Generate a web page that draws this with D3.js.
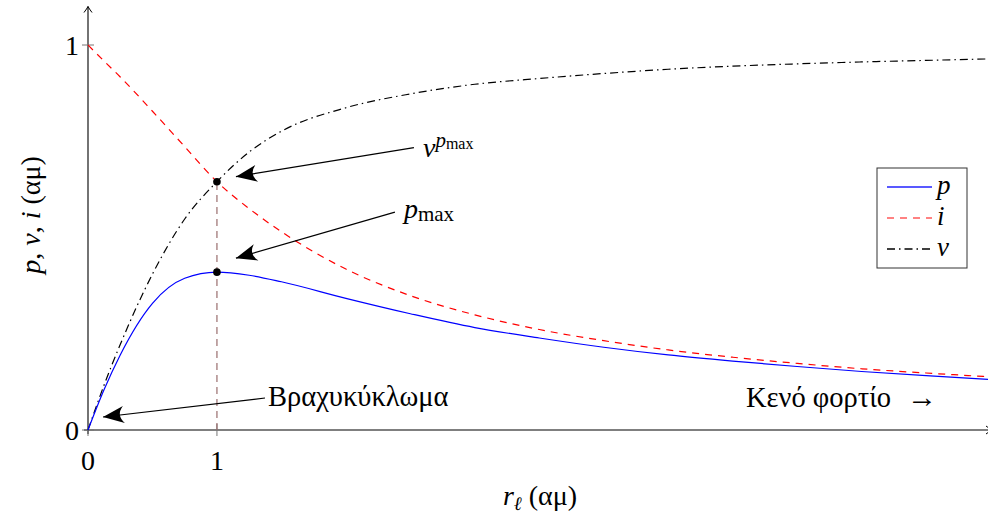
<!DOCTYPE html>
<html><head><meta charset="UTF-8">
<script src="https://cdn.jsdelivr.net/npm/d3@7/dist/d3.min.js"></script>
<style>
  body { margin: 0; background: #fff; }
  svg { display: block; font-family: "Liberation Serif", "DejaVu Serif", serif; }
</style>
</head>
<body>
<svg width="988" height="519"></svg>
<script>

// load resistance (αμ) and curves
const rl   = [0, 0.125, 0.25, 0.5, 0.75, 1, 1.25, 1.5, 2, 2.5, 3, 3.5, 4, 4.5, 5, 5.5, 6, 6.5, 7];
const pVal = [0, 0.105, 0.195, 0.329, 0.394, 0.41, 0.402, 0.385, 0.342, 0.302, 0.266, 0.239, 0.215, 0.195, 0.179, 0.165, 0.152, 0.141, 0.131];
const iVal = [1, 0.958, 0.917, 0.828, 0.736, 0.645, 0.575, 0.515, 0.418, 0.349, 0.299, 0.261, 0.232, 0.208, 0.189, 0.173, 0.159, 0.148, 0.138];
const vVal = [0, 0.117, 0.222, 0.405, 0.548, 0.645, 0.722, 0.776, 0.837, 0.873, 0.898, 0.913, 0.926, 0.937, 0.945, 0.951, 0.956, 0.960, 0.964];

const xTicks = [0, 1];
const yTicks = [0, 1];
const rOpt = 1; // point of max power

const legendItems = ["p", "i", "v"];

const width = 988, height = 519;
const svg = d3.select("svg");

let x = d3.scaleLinear().domain([0, 6.98]).range([88, 988]);
let y = d3.scaleLinear().domain([0, 1]).range([430, 45]);

const styles = {
  p: { stroke: "blue", dash: null },
  i: { stroke: "red", dash: "7,6" },
  v: { stroke: "black", dash: "8,4,1.5,4" }
};

let defs = svg.append("defs");
// stealth-like arrow for annotations
defs.append("marker")
  .attr("id", "stealth")
  .attr("viewBox", "-22 -10 24 20")
  .attr("markerWidth", 24).attr("markerHeight", 20)
  .attr("refX", 0).attr("refY", 0)
  .attr("markerUnits", "userSpaceOnUse")
  .attr("orient", "auto")
  .append("path")
  .attr("d", "M0,0 L-21,-8.5 Q-13,0 -21,8.5 Z")
  .attr("fill", "black");
// small latex "->" for axes
defs.append("marker")
  .attr("id", "axarrow")
  .attr("viewBox", "-8 -5 9 10")
  .attr("markerWidth", 9).attr("markerHeight", 10)
  .attr("refX", 0).attr("refY", 0)
  .attr("markerUnits", "userSpaceOnUse")
  .attr("orient", "auto")
  .append("path")
  .attr("d", "M-6,-4 Q-2,-1 0,0 Q-2,1 -6,4")
  .attr("fill", "none").attr("stroke", "black").attr("stroke-width", 1);

// axes
svg.append("line")
  .attr("x1", x(0) - 4).attr("y1", y(0))
  .attr("x2", x(6.98) + 4).attr("y2", y(0))
  .attr("stroke", "black").attr("stroke-width", 1.1)
  .attr("marker-end", "url(#axarrow)");
svg.append("line")
  .attr("x1", x(0)).attr("y1", y(0) + 4)
  .attr("x2", x(0)).attr("y2", y(1.1))
  .attr("stroke", "black").attr("stroke-width", 1.1)
  .attr("marker-end", "url(#axarrow)");

// ticks
svg.selectAll(".xtick").data(xTicks).enter().append("line")
  .attr("x1", d => x(d)).attr("x2", d => x(d))
  .attr("y1", y(0) - 6).attr("y2", y(0) + 6)
  .attr("stroke", "#777").attr("stroke-width", 1);
svg.selectAll(".ytick").data(yTicks).enter().append("line")
  .attr("x1", x(0) - 6).attr("x2", x(0) + 6)
  .attr("y1", d => y(d)).attr("y2", d => y(d))
  .attr("stroke", "#777").attr("stroke-width", 1);

svg.selectAll(".xlab").data(xTicks).enter().append("text")
  .attr("x", d => x(d)).attr("y", y(0) + 40)
  .attr("text-anchor", "middle")
  .style("font-size", "28px")
  .text(d => d);
svg.selectAll(".ylab").data(yTicks).enter().append("text")
  .attr("x", x(0) - 9).attr("y", d => y(d) + 10)
  .attr("text-anchor", "end")
  .style("font-size", "28px")
  .text(d => d);

// dashed marker line at r = 1
svg.append("line")
  .attr("x1", x(rOpt)).attr("x2", x(rOpt))
  .attr("y1", y(0)).attr("y2", y(iVal[rl.indexOf(rOpt)]))
  .attr("stroke", "#9a6e6e").attr("stroke-width", 1.2)
  .attr("stroke-dasharray", "7,5");

// curves
const series = { p: pVal, i: iVal, v: vVal };
let line = d3.line()
  .x(d => x(d[0]))
  .y(d => y(d[1]))
  .curve(d3.curveMonotoneX);

["v", "i", "p"].forEach(k => {
  svg.append("path")
    .datum(rl.map((r, j) => [r, series[k][j]]))
    .attr("d", line)
    .attr("fill", "none")
    .attr("stroke", styles[k].stroke)
    .attr("stroke-width", 1.2)
    .attr("stroke-dasharray", styles[k].dash);
});

// dots at r = 1
const jOpt = rl.indexOf(rOpt);
svg.selectAll(".dot").data([iVal[jOpt], pVal[jOpt]]).enter().append("circle")
  .attr("cx", x(rOpt)).attr("cy", d => y(d))
  .attr("r", 3.8).attr("fill", "black");

// annotations
function annot(x1, y1, x2, y2) {
  svg.append("line")
    .attr("x1", x1).attr("y1", y1).attr("x2", x2).attr("y2", y2)
    .attr("stroke", "black").attr("stroke-width", 1.2)
    .attr("marker-end", "url(#stealth)");
}

// v^{pmax}
annot(x(rOpt) + 197, y(vVal[jOpt]) - 34, x(rOpt) + 19, y(vVal[jOpt]) - 5);
let t1 = svg.append("text").attr("x", x(rOpt) + 206).attr("y", y(vVal[jOpt]) - 25)
  .style("font-size", "28px");
t1.append("tspan").style("font-style", "italic").text("v");
t1.append("tspan").attr("dy", -10).style("font-style", "italic").style("font-size", "21px").text("p");
t1.append("tspan").attr("dy", 2).style("font-size", "16px").text("max");

// p_max
annot(x(rOpt) + 178, y(pVal[jOpt]) - 60, x(rOpt) + 19, y(pVal[jOpt]) - 14);
let t2 = svg.append("text").attr("x", x(rOpt) + 187).attr("y", y(pVal[jOpt]) - 54)
  .style("font-size", "28px");
t2.append("tspan").style("font-style", "italic").text("p");
t2.append("tspan").attr("dy", 3).style("font-size", "21px").text("max");

// short circuit
annot(x(0) + 177, y(0) - 32, x(0) + 15, y(0) - 13);
svg.append("text").attr("x", x(0) + 180).attr("y", y(0) - 24)
  .style("font-size", "28.5px")
  .text("Βραχυκύκλωμα");

// open circuit
svg.append("text").attr("x", 746).attr("y", y(0) - 23)
  .style("font-size", "28.5px")
  .text("Κενό φορτίο");
svg.append("text").attr("x", 907).attr("y", y(0) - 23)
  .style("font-size", "30px")
  .text("→");

// axis labels
let yl = svg.append("text")
  .attr("transform", "translate(40,215) rotate(-90)")
  .attr("text-anchor", "middle")
  .style("font-size", "28px");
yl.append("tspan").style("font-style", "italic").text("p");
yl.append("tspan").text(", ");
yl.append("tspan").style("font-style", "italic").text("v");
yl.append("tspan").text(", ");
yl.append("tspan").style("font-style", "italic").text("i");
yl.append("tspan").text(" (αμ)");

let xl = svg.append("text")
  .attr("x", 540).attr("y", 505)
  .attr("text-anchor", "middle")
  .style("font-size", "28px");
xl.append("tspan").style("font-style", "italic").text("r");
xl.append("tspan").attr("dy", 5).style("font-style", "italic").style("font-size", "19px").text("ℓ");
xl.append("tspan").attr("dy", -5).text(" (αμ)");

// legend
let lg = svg.append("g").attr("transform", "translate(877,168)");
lg.append("rect")
  .attr("width", 90).attr("height", 100)
  .attr("fill", "white").attr("stroke", "#333").attr("stroke-width", 1);
legendItems.forEach((k, j) => {
  let yy = 19 + j * 31;
  lg.append("line")
    .attr("x1", 10).attr("x2", 55).attr("y1", yy).attr("y2", yy)
    .attr("stroke", styles[k].stroke)
    .attr("stroke-opacity", k === "v" ? 1 : 0.65)
    .attr("stroke-width", k === "p" ? 2 : 1.4)
    .attr("stroke-dasharray", styles[k].dash);
  lg.append("text")
    .attr("x", 60).attr("y", yy + 7)
    .style("font-size", "27px").style("font-style", "italic")
    .text(k);
});

</script>
</body></html>
